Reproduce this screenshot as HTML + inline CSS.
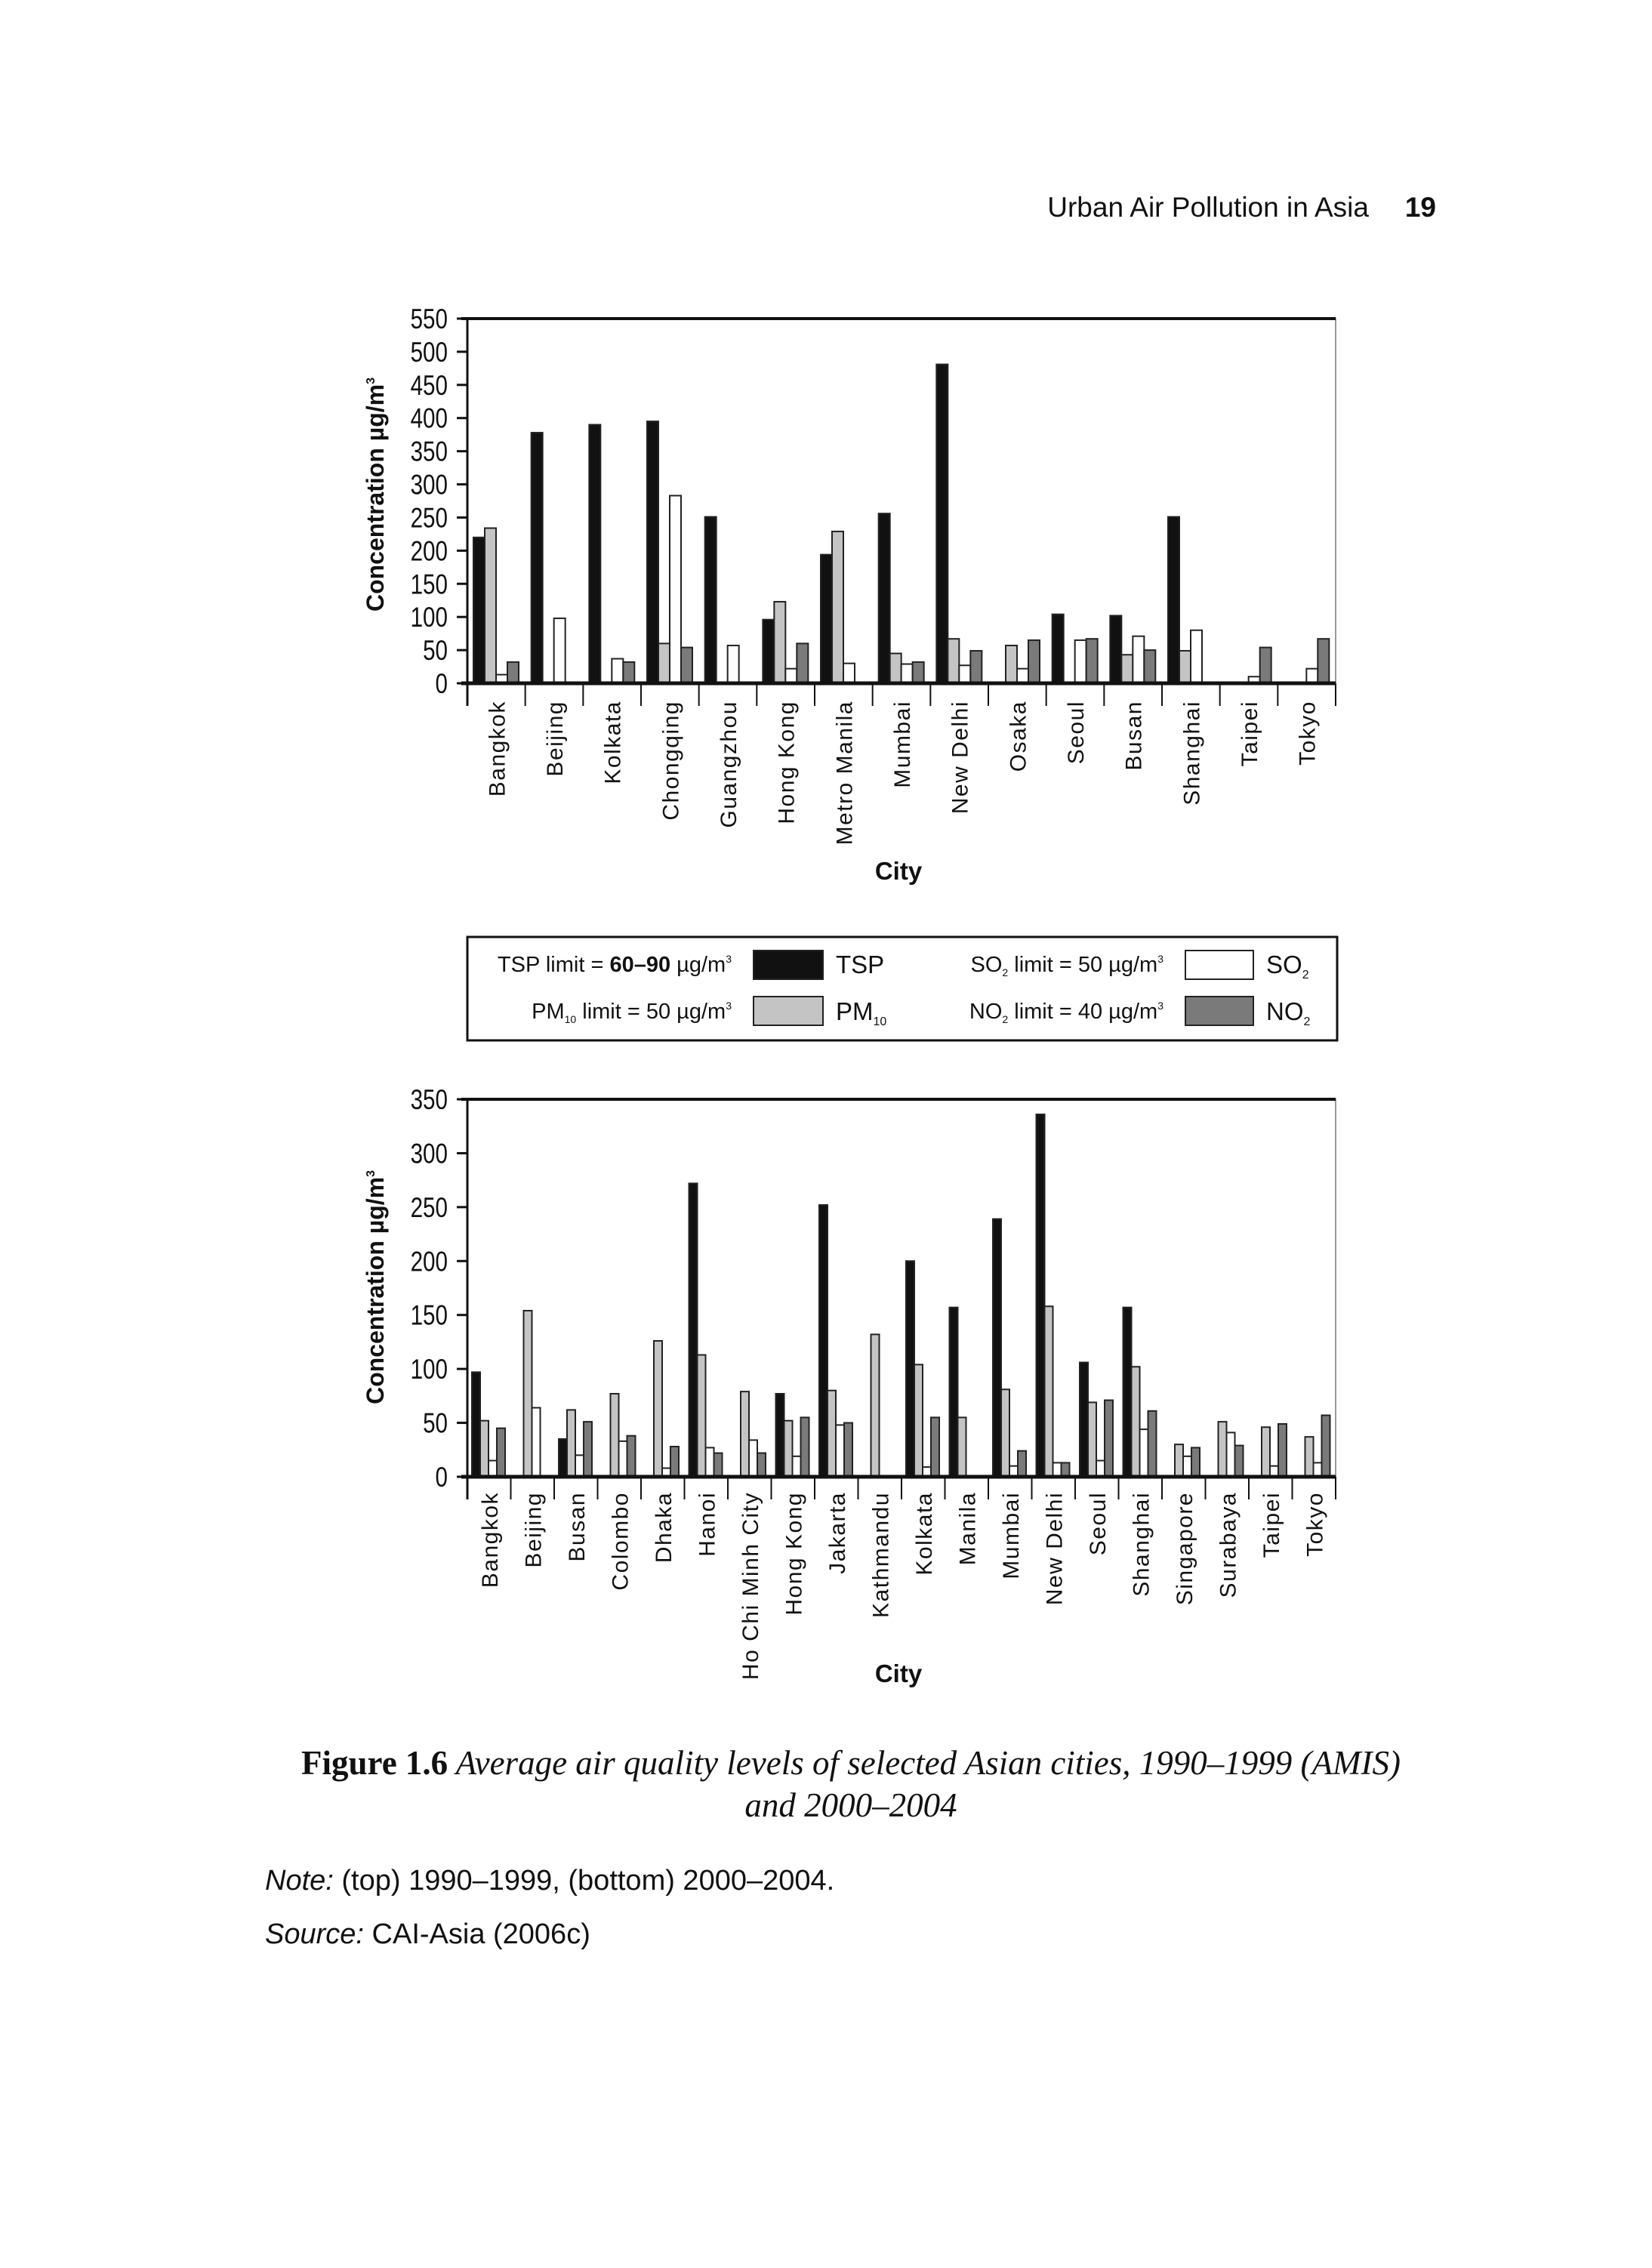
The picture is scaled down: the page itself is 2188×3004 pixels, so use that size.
<!DOCTYPE html>
<html><head><meta charset="utf-8"><style>
html,body{margin:0;padding:0;background:#fff;}
body{width:2188px;height:3004px;position:relative;overflow:hidden;font-family:"Liberation Sans",sans-serif;}
svg{position:absolute;left:0;top:0;}
</style></head><body>
<svg id="page" width="2188" height="3004" viewBox="0 0 2188 3004" xmlns="http://www.w3.org/2000/svg">
<text x="1813" y="287" text-anchor="end" font-family="Liberation Sans, sans-serif" font-size="37" fill="#111">Urban Air Pollution in Asia</text>
<text x="1902" y="287" text-anchor="end" font-family="Liberation Sans, sans-serif" font-weight="bold" font-size="37" fill="#111">19</text>
<g id="top"></g>
<g id="bottom"></g>
<g font-family="Liberation Sans, sans-serif" font-size="29" fill="#111">
<rect x="619" y="1241" width="1152" height="137" fill="#fff" stroke="#111" stroke-width="3"/>
<text x="969" y="1287" text-anchor="end">TSP limit = <tspan font-weight="bold">60–90</tspan> µg/m<tspan font-size="14" dy="-12">3</tspan></text>
<rect x="998" y="1259" width="92" height="38" fill="#111" stroke="#222" stroke-width="2"/>
<text x="1107" y="1289" font-size="33">TSP</text>
<text x="969" y="1349" text-anchor="end">PM<tspan font-size="14" dy="6">10</tspan><tspan dy="-6"> limit = 50 µg/m</tspan><tspan font-size="14" dy="-12">3</tspan></text>
<rect x="998" y="1320" width="92" height="38" fill="#c4c4c4" stroke="#222" stroke-width="2"/>
<text x="1107" y="1351" font-size="33">PM<tspan font-size="16" dy="7">10</tspan></text>
<text x="1541" y="1287" text-anchor="end">SO<tspan font-size="14" dy="6">2</tspan><tspan dy="-6"> limit = 50 µg/m</tspan><tspan font-size="14" dy="-12">3</tspan></text>
<rect x="1570" y="1259" width="90" height="38" fill="#fff" stroke="#222" stroke-width="2"/>
<text x="1677" y="1289" font-size="33">SO<tspan font-size="16" dy="7">2</tspan></text>
<text x="1541" y="1349" text-anchor="end">NO<tspan font-size="14" dy="6">2</tspan><tspan dy="-6"> limit = 40 µg/m</tspan><tspan font-size="14" dy="-12">3</tspan></text>
<rect x="1570" y="1320" width="90" height="38" fill="#7a7a7a" stroke="#222" stroke-width="2"/>
<text x="1677" y="1351" font-size="33">NO<tspan font-size="16" dy="7">2</tspan></text>
</g>
<text x="1127" y="2350" text-anchor="middle" font-family="Liberation Serif, serif" font-size="45" fill="#111"><tspan font-weight="bold">Figure 1.6</tspan><tspan font-style="italic">  Average air quality levels of selected Asian cities, 1990–1999 (AMIS)</tspan></text>
<text x="1127" y="2406" text-anchor="middle" font-family="Liberation Serif, serif" font-style="italic" font-size="45" fill="#111">and 2000–2004</text>
<text x="351" y="2503" font-family="Liberation Sans, sans-serif" font-size="38" fill="#111"><tspan font-style="italic">Note:</tspan> (top) 1990–1999, (bottom) 2000–2004.</text>
<text x="351" y="2574" font-family="Liberation Sans, sans-serif" font-size="38" fill="#111"><tspan font-style="italic">Source:</tspan> CAI-Asia (2006c)</text>
</svg>
<script>
const topCities = ["Bangkok","Beijing","Kolkata","Chongqing","Guangzhou","Hong Kong","Metro Manila","Mumbai","New Delhi","Osaka","Seoul","Busan","Shanghai","Taipei","Tokyo"];
const topTSP  = [220,378,390,395,251,96,194,256,481,null,104,102,251,null,null];
const topPM10 = [234,null,null,60,null,123,229,45,67,57,null,43,49,null,null];
const topSO2  = [13,98,37,283,57,22,30,29,27,22,65,71,80,10,22];
const topNO2  = [32,null,32,54,null,60,null,32,49,65,67,50,null,54,67];
const topTicks = [0,50,100,150,200,250,300,350,400,450,500,550];

const botCities = ["Bangkok","Beijing","Busan","Colombo","Dhaka","Hanoi","Ho Chi Minh City","Hong Kong","Jakarta","Kathmandu","Kolkata","Manila","Mumbai","New Delhi","Seoul","Shanghai","Singapore","Surabaya","Taipei","Tokyo"];
const botTSP  = [97,null,35,null,null,272,null,77,252,null,200,157,239,336,106,157,null,null,null,null];
const botPM10 = [52,154,62,77,126,113,79,52,80,132,104,55,81,158,69,102,30,51,46,37];
const botSO2  = [15,64,20,33,8,27,34,19,48,null,9,null,10,13,15,44,19,41,10,13];
const botNO2  = [45,null,51,38,28,22,22,55,50,null,55,null,24,13,71,61,27,29,49,57];
const botTicks = [0,50,100,150,200,250,300,350];

const NS="http://www.w3.org/2000/svg";
const fills=["#111","#c4c4c4","#fff","#7a7a7a"];
const snames=["tsp","pm10","so2","no2"];
function mk(tag,attrs,parent){const e=document.createElementNS(NS,tag);for(const k in attrs)e.setAttribute(k,attrs[k]);parent.appendChild(e);return e;}

function drawChart(g,cfg){
  const {x0,x1,yTop,y0,max,ticks,cities,series,barW,barOff,labelTop,cityY,titleY} = cfg;
  const ys=v=>y0-(v/max)*(y0-yTop);
  const bw=(x1-x0)/cities.length;
  const xs=i=>x0+i*bw;
  const fr=mk('rect',{x:x0,y:yTop,width:x1-x0,height:y0-yTop,fill:'none',stroke:'#999','stroke-width':2},g);
  
  
  const tl=mk('line',{x1:x0-8,x2:x1,y1:yTop,y2:yTop,stroke:'#111','stroke-width':4},g);
  
  
  const ya=mk('line',{x1:x0,x2:x0,y1:yTop,y2:y0+30,stroke:'#111','stroke-width':3},g);
  
  
  ticks.forEach(t=>{
    const y=ys(t);
    const tk=mk('line',{x1:x0-14,x2:x0,y1:y,y2:y,stroke:'#111','stroke-width':3},g);
    
    
    const tx=mk('text',{x:x0-26,y:y+13,'text-anchor':'end','font-size':37,fill:'#111','font-family':'Liberation Sans, sans-serif',transform:`translate(${x0-26},0) scale(0.8,1) translate(${-(x0-26)},0)`},g);
    tx.textContent=t;
    
    
  });
  cities.forEach((c,i)=>{
    series.forEach((s,k)=>{
      const v=s[i]; if(v==null) return;
      const bx=xs(i)+barOff+k*barW;
      const r=mk('rect',{x:bx,y:ys(v),width:barW,height:y0-ys(v),fill:fills[k],stroke:'#222','stroke-width':2},g);
      
      
    });
  });
  const xa=mk('line',{x1:x0-8,x2:x1,y1:y0,y2:y0,stroke:'#111','stroke-width':5},g);
  
  
  for(let i=0;i<=cities.length;i++){
    const tk=mk('line',{x1:xs(i),x2:xs(i),y1:y0,y2:y0+30,stroke:'#111','stroke-width':2},g);
    
    
  }
  cities.forEach((c,i)=>{
    const cx=xs(i)+bw/2+11;
    const t=mk('text',{x:cx,y:labelTop,'text-anchor':'end','font-size':30,'letter-spacing':1.5,fill:'#111','font-family':'Liberation Sans, sans-serif',transform:`rotate(-90 ${cx} ${labelTop})`},g);
    t.textContent=c;
    
    
  });
  const ct=mk('text',{x:1190,y:cityY,'text-anchor':'middle','font-size':33,'font-weight':'bold',fill:'#111','font-family':'Liberation Sans, sans-serif'},g);
  ct.textContent='City';
  
  
  const yt=mk('text',{x:508,y:titleY,'text-anchor':'middle','font-size':32,'font-weight':'bold',fill:'#111','font-family':'Liberation Sans, sans-serif',transform:`rotate(-90 508 ${titleY})`},g);
  yt.innerHTML='Concentration µg/m<tspan font-size="16" dy="-12">3</tspan>';
  
  
}
drawChart(document.getElementById('top'),{x0:619,x1:1769,yTop:422,y0:905,max:550,ticks:topTicks,cities:topCities,series:[topTSP,topPM10,topSO2,topNO2],barW:15,barOff:8,labelTop:928,cityY:1165,titleY:655});
drawChart(document.getElementById('bottom'),{x0:619,x1:1769,yTop:1456,y0:1956,max:350,ticks:botTicks,cities:botCities,series:[botTSP,botPM10,botSO2,botNO2],barW:11,barOff:6,labelTop:1976,cityY:2228,titleY:1705});
</script>
</body></html>
